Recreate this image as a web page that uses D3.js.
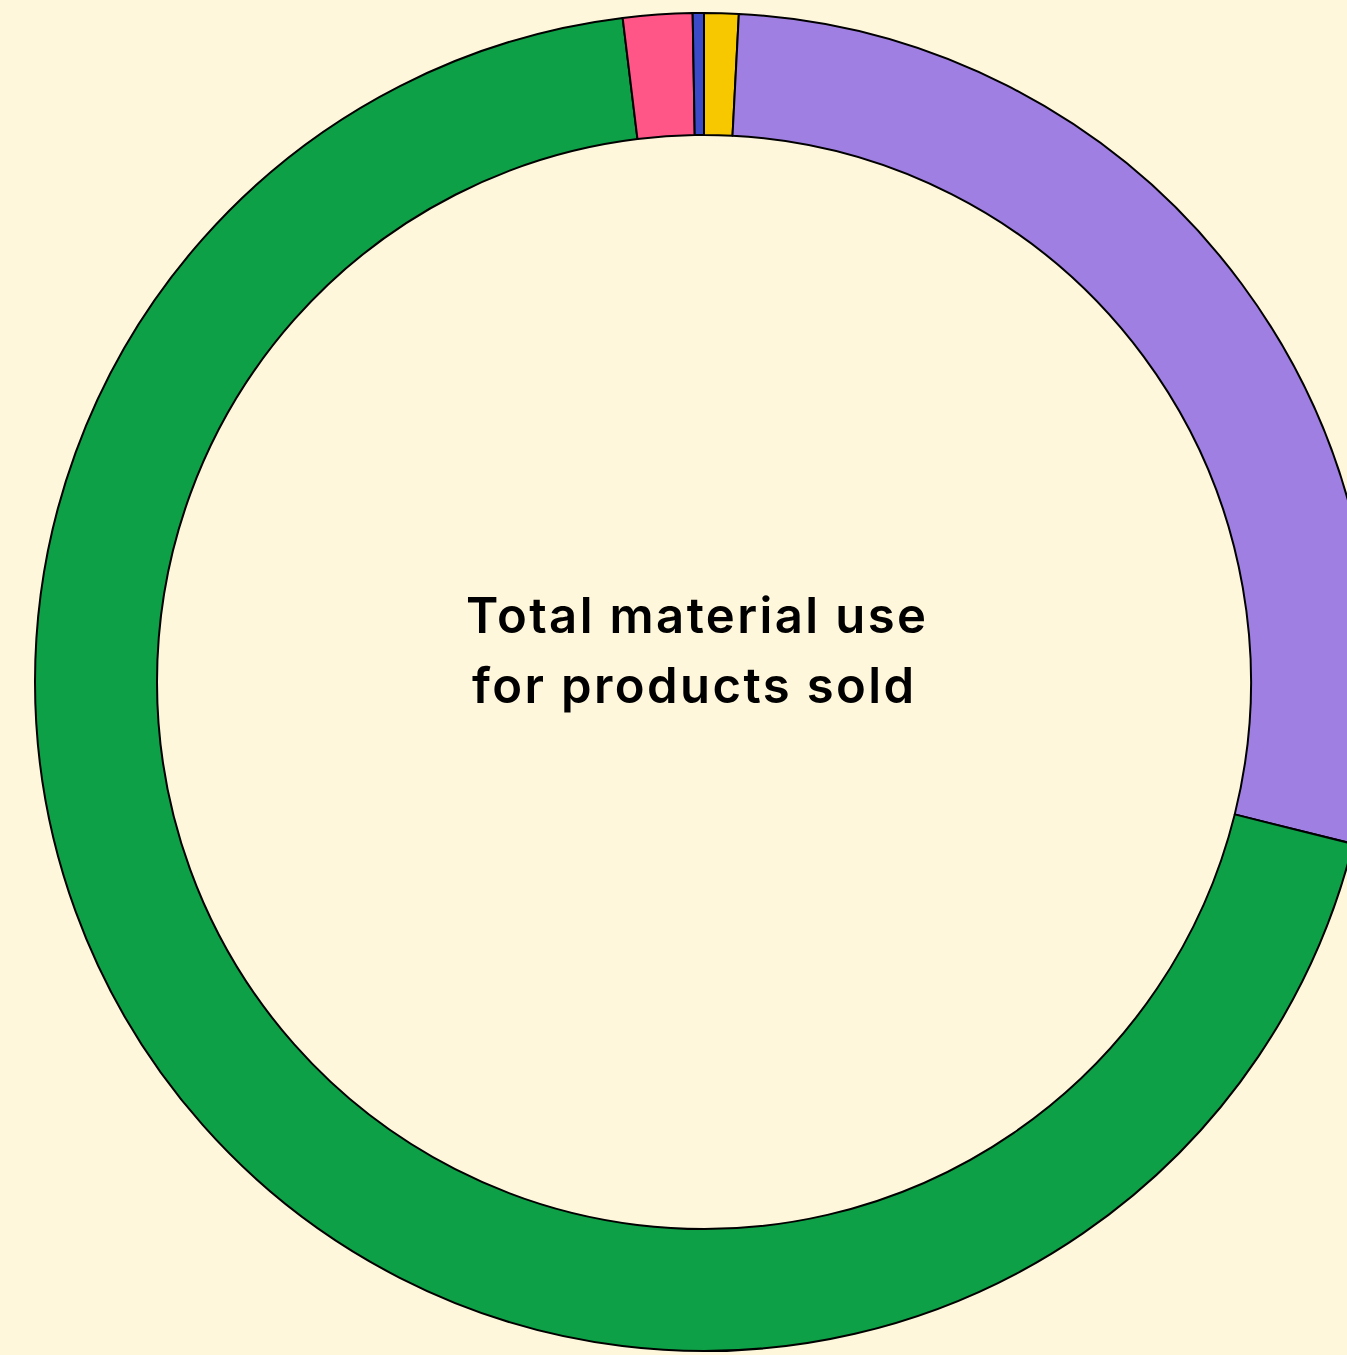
<!DOCTYPE html>
<html>
<head>
<meta charset="utf-8">
<script src="https://cdn.jsdelivr.net/npm/d3@7"></script>
<style>
  html, body { margin: 0; padding: 0; background: #FFF7DC; }
  svg { display: block; }
</style>
</head>
<body>
<svg id="chart" width="1347" height="1355"></svg>
<script>
// Share of total material use (%), clockwise from 12 o'clock
const categories = ["Yellow", "Purple", "Green", "Pink", "Blue"];
const shares = [0.83, 28.06, 69.17, 1.67, 0.27];
const colors = ["#F7C800", "#9F7FE1", "#0DA046", "#FF5687", "#3B4BC8"];
const centerLabel = ["Total material use", "for products sold"];

const svg = d3.select("#chart");
const cx = 704, cy = 682, outerR = 669, innerR = 547;

const data = categories.map((c, i) => ({ name: c, value: shares[i], color: colors[i] }));

const pie = d3.pie().sort(null).value(d => d.value);
const arc = d3.arc().innerRadius(innerR).outerRadius(outerR);

const g = svg.append("g").attr("transform", `translate(${cx},${cy})`);

g.selectAll("path")
  .data(pie(data))
  .join("path")
  .attr("d", arc)
  .attr("fill", d => d.data.color)
  .attr("stroke", "#000")
  .attr("stroke-width", 2)
  .attr("stroke-linejoin", "round");

const label = svg.append("text")
  .attr("font-family", "Inter, 'Noto Sans', sans-serif")
  .attr("font-weight", 600)
  .attr("font-size", 49)
  .attr("letter-spacing", 2.4)
  .attr("fill", "#000");

label.selectAll("tspan")
  .data(centerLabel)
  .join("tspan")
  .attr("x", (d, i) => i === 0 ? 466 : 472)
  .attr("y", (d, i) => 633 + i * 70)
  .text(d => d);
</script>
</body>
</html>
